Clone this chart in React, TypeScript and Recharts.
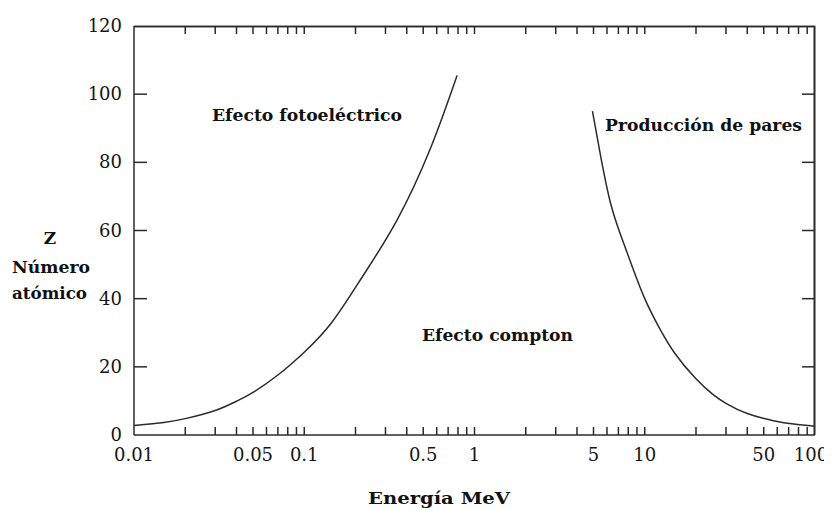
import React from "react";
import { LineChart, Line, XAxis, YAxis, Customized } from "recharts";

// Photoelectric boundary (energy MeV, Z)
const photoEnergy = [0.01, 0.015, 0.02, 0.03, 0.04, 0.05, 0.07, 0.1, 0.145, 0.22, 0.35, 0.55, 0.79];
const photoZ = [2.8, 3.7, 4.8, 7.2, 9.9, 12.5, 17.6, 24.3, 33, 46.5, 63, 84, 105.5];
// Pair-production boundary
const pairEnergy = [4.93, 5.5, 6.3, 7.3, 8.5, 10, 12, 15, 20, 25, 30, 40, 57, 75, 100];
const pairZ = [95, 82, 68, 58, 49, 40, 32, 24, 16.5, 12, 9.3, 6.3, 4.2, 3.2, 2.6];

const xTickLabels = ["0.01", "0.05", "0.1", "0.5", "1", "5", "10", "50", "100"];
const decades = [0.01, 0.1, 1, 10];
const multipliers = [1, 2, 3, 4, 5, 6, 7, 8, 9];
const yTicks = [0, 20, 40, 60, 80, 100, 120];

const xTicks: number[] = [];
decades.forEach((d) => multipliers.forEach((m) => xTicks.push(Number((d * m).toPrecision(3)))));
xTicks.push(100);

const photoData = photoEnergy.map((e, i) => ({ e, z: photoZ[i] }));
const pairData = pairEnergy.map((e, i) => ({ e, z: pairZ[i] }));

// layout
const CHART_W = 824;
const CHART_H = 502;
const MARGIN = { top: 0, right: 17, bottom: 45, left: 0 };
const TOP_AXIS_H = 18;
const BOTTOM_AXIS_H = 30;
const LEFT_AXIS_W = 126;
const PLOT_TOP = MARGIN.top + TOP_AXIS_H;
const PLOT_LEFT = MARGIN.left + LEFT_AXIS_W;
const PLOT_RIGHT = CHART_W - MARGIN.right;
const PLOT_BOTTOM = CHART_H - MARGIN.bottom - BOTTOM_AXIS_H;

const INK = "#2b2b2b";
const SERIF = "'DejaVu Serif', serif";

const BottomTick = (props: any) => {
  const { x, y, payload } = props;
  const v = payload.value;
  const lbl = String(v);
  const edge = v === 0.01 || v === 100;
  const dx = v === 100 ? -4 : 0;
  return (
    <g>
      {!edge && <line x1={x} x2={x} y1={y} y2={y - 8} stroke={INK} strokeWidth={1.5} />}
      {xTickLabels.includes(lbl) && (
        <text x={x + dx} y={y + 26} textAnchor="middle" fontFamily={SERIF} fontSize={18} fill="#151515">
          {lbl}
        </text>
      )}
    </g>
  );
};

const TopTick = (props: any) => {
  const { x, y, payload } = props;
  const v = payload.value;
  const edge = v === 0.01 || v === 100;
  return <g>{!edge && <line x1={x} x2={x} y1={y} y2={y + 8} stroke={INK} strokeWidth={1.5} />}</g>;
};

const LeftTick = (props: any) => {
  const { x, y, payload } = props;
  const v = payload.value;
  const edge = v === 0 || v === 120;
  return (
    <g>
      {!edge && <line x1={x} x2={x + 13} y1={y} y2={y} stroke={INK} strokeWidth={1.5} />}
      {!edge && <line x1={PLOT_RIGHT} x2={PLOT_RIGHT - 13} y1={y} y2={y} stroke={INK} strokeWidth={1.5} />}
      <text x={x - 12} y={y + 6} textAnchor="end" fontFamily={SERIF} fontSize={18} fill="#151515">
        {String(v)}
      </text>
    </g>
  );
};

const Frame = () => (
  <path
    d={`M${PLOT_LEFT},${PLOT_TOP + 0.5} L${PLOT_RIGHT - 0.5},${PLOT_TOP + 0.5} L${PLOT_RIGHT - 0.5},${PLOT_BOTTOM}`}
    fill="none"
    stroke={INK}
    strokeWidth={1.6}
  />
);

const Annotations = () => (
  <g>
    <Frame />
    <g fontFamily={SERIF} fontWeight="bold" fill="#111">
      <text x={204} y={113} fontSize={16} textLength={190} lengthAdjust="spacingAndGlyphs">Efecto fotoeléctrico</text>
      <text x={597} y={123} fontSize={16} textLength={197} lengthAdjust="spacingAndGlyphs">Producción de pares</text>
      <text x={414} y={333} fontSize={16} textLength={151} lengthAdjust="spacingAndGlyphs">Efecto compton</text>
      <text x={360} y={496} fontSize={16} textLength={142} lengthAdjust="spacingAndGlyphs">Energía MeV</text>
      <text x={42} y={236} fontSize={17} textAnchor="middle">Z</text>
      <text x={4} y={265} fontSize={16} textLength={78} lengthAdjust="spacingAndGlyphs">Número</text>
      <text x={4} y={291} fontSize={16} textLength={75} lengthAdjust="spacingAndGlyphs">atómico</text>
    </g>
  </g>
);

export default function App() {
  return (
    <div style={{ position: "relative", width: CHART_W, height: CHART_H }}>
      <LineChart width={CHART_W} height={CHART_H} margin={MARGIN}>
        <XAxis
          xAxisId="b"
          dataKey="e"
          type="number"
          scale="log"
          domain={[0.01, 100]}
          ticks={xTicks}
          interval={0}
          tickSize={0}
          tickMargin={0}
          height={BOTTOM_AXIS_H}
          orientation="bottom"
          axisLine={{ stroke: INK, strokeWidth: 1.5 }}
          tick={<BottomTick />}
          allowDataOverflow
        />
        <XAxis
          xAxisId="t"
          dataKey="e"
          type="number"
          scale="log"
          domain={[0.01, 100]}
          ticks={xTicks}
          interval={0}
          tickSize={0}
          tickMargin={0}
          height={TOP_AXIS_H}
          orientation="top"
          axisLine={false}
          tick={<TopTick />}
          allowDataOverflow
        />
        <YAxis
          yAxisId="l"
          type="number"
          domain={[0, 120]}
          ticks={yTicks}
          interval={0}
          tickSize={0}
          tickMargin={0}
          width={LEFT_AXIS_W}
          orientation="left"
          axisLine={{ stroke: INK, strokeWidth: 1.5 }}
          tick={<LeftTick />}
        />
        <Line
          xAxisId="b"
          yAxisId="l"
          data={photoData}
          dataKey="z"
          type="natural"
          stroke={INK}
          strokeWidth={1.5}
          dot={false}
          isAnimationActive={false}
        />
        <Line
          xAxisId="b"
          yAxisId="l"
          data={pairData}
          dataKey="z"
          type="natural"
          stroke={INK}
          strokeWidth={1.5}
          dot={false}
          isAnimationActive={false}
        />
        <Customized component={Annotations} />
      </LineChart>
      <svg
        width={CHART_W}
        height={CHART_H}
        style={{ position: "absolute", left: 0, top: 0, pointerEvents: "none" }}
      >
        <Frame />
      </svg>
    </div>
  );
}
